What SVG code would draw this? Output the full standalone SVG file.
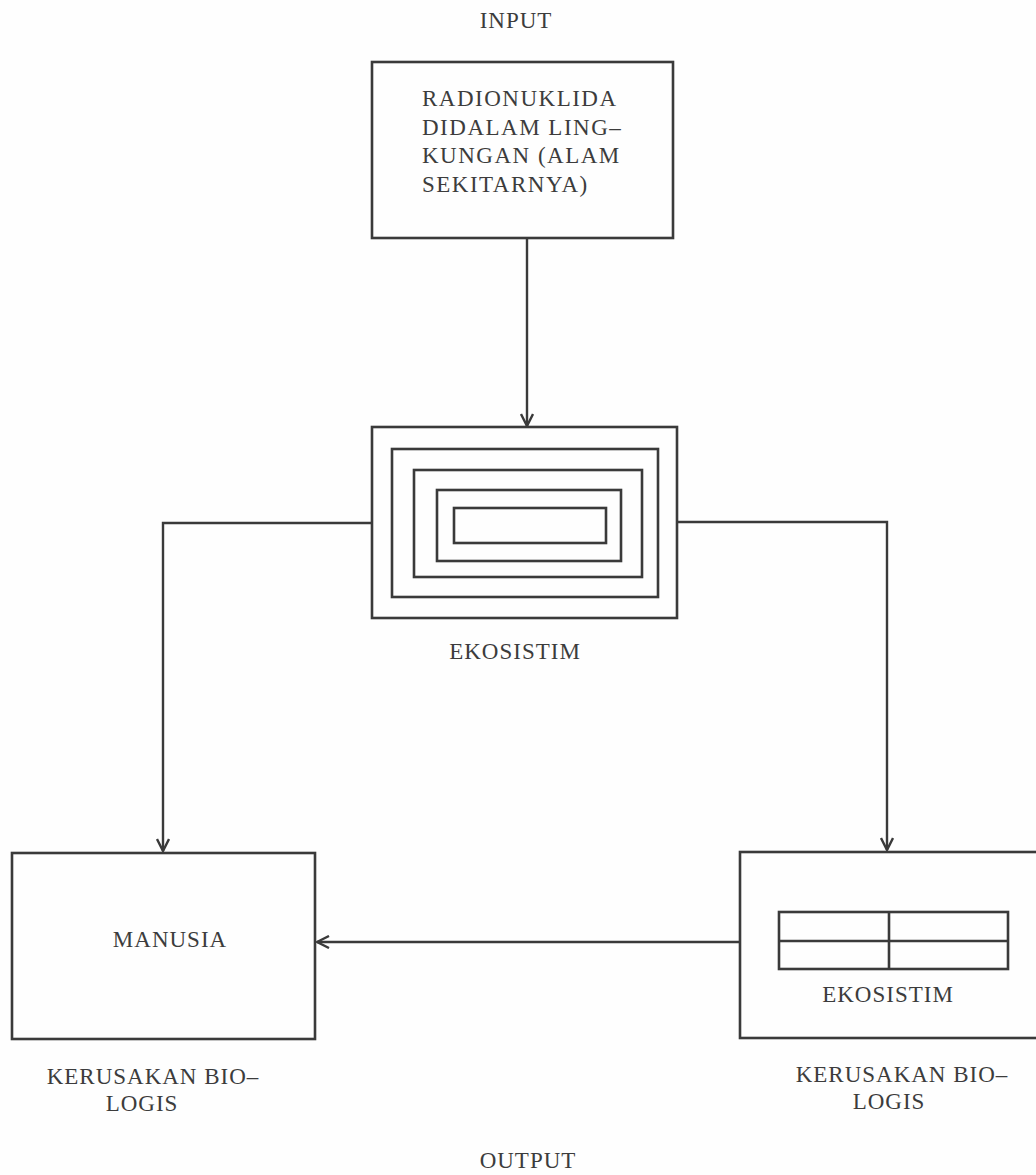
<svg xmlns="http://www.w3.org/2000/svg" width="1036" height="1175" viewBox="0 0 1036 1175">
<style>
.box{fill:none;stroke:#3a3a3a;stroke-width:2.6}
.con{fill:none;stroke:#3a3a3a;stroke-width:2.4}
.t{font-family:"Liberation Serif","Times New Roman",serif;font-size:23px;fill:#3c3c3c}
.ts{letter-spacing:1.5px}
.tm{letter-spacing:1px;text-anchor:middle}
</style>
<defs>
<marker id="arr" viewBox="0 0 14 14" refX="13" refY="7" markerWidth="14" markerHeight="14" markerUnits="userSpaceOnUse" orient="auto">
<path d="M1,1 L13,7 L1,13" fill="none" stroke="#3a3a3a" stroke-width="2.4"/>
</marker>
</defs>
<rect width="1036" height="1175" fill="#fefefe"/>
<text class="t tm" x="516" y="28">INPUT</text>
<text class="t tm" x="528" y="1168">OUTPUT</text>
<g id="radionuklida">
<rect class="box" x="372" y="62" width="301" height="176"/>
<text class="t ts" x="422" y="106">RADIONUKLIDA</text>
<text class="t ts" x="422" y="135">DIDALAM LING–</text>
<text class="t ts" x="422" y="163">KUNGAN (ALAM</text>
<text class="t ts" x="422" y="192">SEKITARNYA)</text>
</g>
<g id="ekosistim1">
<rect class="box" x="372" y="427" width="305" height="191"/>
<rect class="box" x="392" y="449" width="266" height="148"/>
<rect class="box" x="414" y="470" width="228" height="107"/>
<rect class="box" x="437" y="490" width="184" height="71"/>
<rect class="box" x="454" y="508" width="152" height="35"/>
<text class="t tm" x="515" y="659">EKOSISTIM</text>
</g>
<g id="manusia">
<rect class="box" x="12" y="853" width="303" height="186"/>
<text class="t tm" x="170" y="947">MANUSIA</text>
<text class="t tm" x="153" y="1084">KERUSAKAN BIO–</text>
<text class="t tm" x="142" y="1111">LOGIS</text>
</g>
<g id="ekosistim2">
<rect class="box" x="740" y="852" width="310" height="186"/>
<rect class="box" x="779" y="912" width="229" height="57"/>
<line class="box" x1="779" y1="941" x2="1008" y2="941"/>
<line class="box" x1="889" y1="912" x2="889" y2="969"/>
<text class="t tm" x="888" y="1002">EKOSISTIM</text>
<text class="t tm" x="902" y="1082">KERUSAKAN BIO–</text>
<text class="t tm" x="889" y="1109">LOGIS</text>
</g>
<g id="connectors">
<path class="con" d="M527,238 L527,426" marker-end="url(#arr)"/>
<path class="con" d="M372,523 L163,523 L163,851" marker-end="url(#arr)"/>
<path class="con" d="M677,522 L887,522 L887,850" marker-end="url(#arr)"/>
<path class="con" d="M740,942 L317,942" marker-end="url(#arr)"/>
</g>
</svg>
